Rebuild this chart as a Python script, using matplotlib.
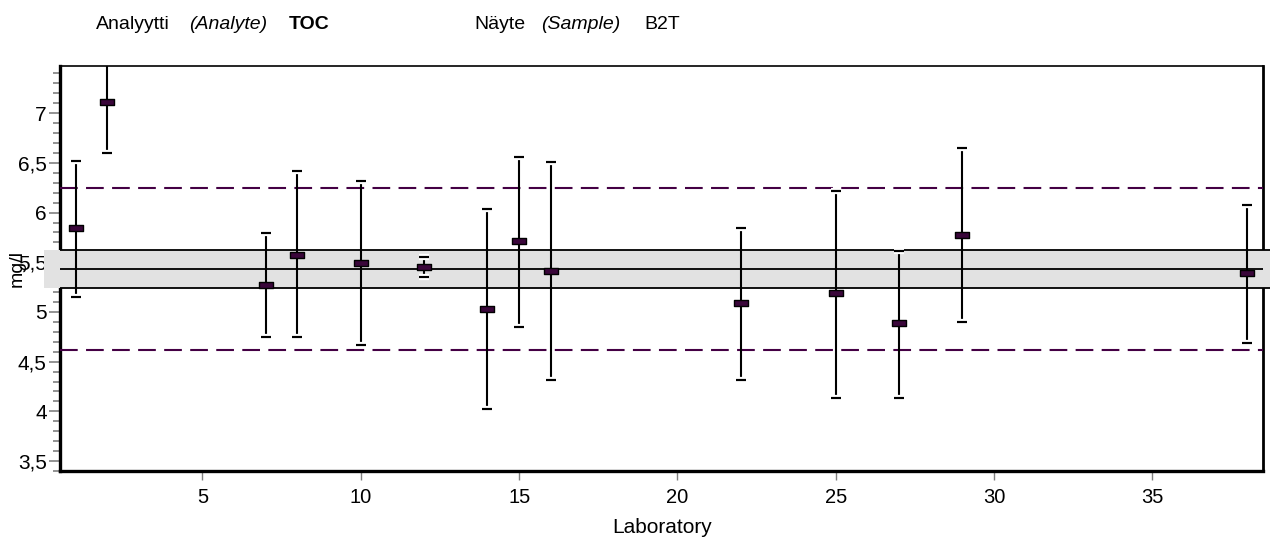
import matplotlib
matplotlib.use("Agg")
import matplotlib.pyplot as plt
import numpy as np
from matplotlib.path import Path
from matplotlib.patches import Rectangle
from matplotlib.ticker import MultipleLocator, FuncFormatter
import matplotlib.patheffects as pe
import matplotlib.transforms as mtransforms

plt.rcParams['font.family'] = ['Liberation Sans', 'DejaVu Sans']

# ---- data ----
labs = [1, 2, 7, 8, 10, 12, 14, 15, 16, 22, 25, 27, 29, 38]
values = [5.84, 7.11, 5.27, 5.575, 5.49, 5.45, 5.025, 5.715, 5.41, 5.086, 5.187, 4.885, 5.776, 5.392]
upper = [6.515, 7.62, 5.79, 6.42, 6.315, 5.55, 6.035, 6.56, 6.51, 5.85, 6.22, 5.615, 6.645, 6.08]
lower = [5.147, 6.603, 4.745, 4.745, 4.667, 5.353, 4.022, 4.848, 4.32, 4.32, 4.138, 4.138, 4.90, 4.685]
assigned_value = 5.43
band_low, band_high = 5.24, 5.62
limit_low, limit_high = 4.615, 6.245
x_ticks = [5, 10, 15, 20, 25, 30, 35]

W, H = 1270, 541
fig = plt.figure(figsize=(W / 100, H / 100), dpi=100)
ax = fig.add_axes([60 / W, 1 - 471 / H, (1263.3 - 60) / W, (471 - 66) / H])

ax.set_xlim(0.5, 38.5)
ax.set_ylim(3.4, 7.475)

purple = '#440044'

# gray band (extends a bit past the axes)
trans = mtransforms.blended_transform_factory(ax.transAxes, ax.transData)
x0 = (44 - 60) / (1263.3 - 60)
x1 = (1270 - 60) / (1263.3 - 60)
ax.add_patch(Rectangle((x0, band_low), x1 - x0, band_high - band_low, transform=trans,
                       facecolor='#e2e2e2', edgecolor='none', zorder=2.6, clip_on=False))
for yv in (band_low, band_high):
    ax.plot([0, x1], [yv, yv], transform=trans, color='black', lw=1.3, zorder=2.7,
            clip_on=False, solid_capstyle='butt')
ax.axhline(assigned_value, color='black', lw=1.3, zorder=2.7)

for yv in (limit_low, limit_high):
    ax.axhline(yv, color=purple, lw=1.5, dashes=(8.5, 4), zorder=2.7)

vals = np.array(values)
yerr = [vals - np.array(lower), np.array(upper) - vals]
eb = ax.errorbar(labs, vals, yerr=yerr, fmt='none', ecolor='black', elinewidth=1.5,
                 capsize=3.6, capthick=1.5, zorder=3)
for cl in eb[1]:
    cl.set_color('#2a002a')
    cl.set_path_effects([pe.withStroke(linewidth=4.5, foreground='white'), pe.Normal()])
    cl.set_zorder(3.5)

rect = Path([(-1, -0.38), (1, -0.38), (1, 0.38), (-1, 0.38), (-1, -0.38)],
            [Path.MOVETO, Path.LINETO, Path.LINETO, Path.LINETO, Path.CLOSEPOLY])
ax.plot(labs, vals, linestyle='none', marker=rect, markersize=10,
        markerfacecolor='#3a063a', markeredgecolor='black', markeredgewidth=1.0, zorder=5)

# spines
ax.spines['left'].set_linewidth(2.4)
ax.spines['bottom'].set_linewidth(2.4)
ax.spines['right'].set_linewidth(2.0)
ax.spines['top'].set_linewidth(1.2)

# ticks
ax.yaxis.set_major_locator(MultipleLocator(0.5))
ax.yaxis.set_minor_locator(MultipleLocator(0.1))
ax.yaxis.set_major_formatter(FuncFormatter(lambda v, p: f"{v:g}".replace('.', ',')))
ax.set_xticks(x_ticks)
ax.tick_params(axis='y', which='major', direction='out', length=8, width=1.2,
               color='#808080', labelsize=15, pad=1.5)
ax.tick_params(axis='y', which='minor', direction='out', length=5, width=1.2,
               color='#808080')
ax.tick_params(axis='x', which='major', direction='out', length=6.5, width=1.0,
               color='#808080', labelsize=14.5, pad=6)
ax.set_xlabel('Laboratory', fontsize=15, labelpad=8)

fig.text(16.7 / W, 1 - 268.5 / H, 'mg/l', rotation=90, ha='center', va='center', fontsize=14)

# header
by = 1 - 29 / H
fig.text(96 / W, by, 'Analyytti', fontsize=14, va='baseline')
fig.text(189 / W, by, '(Analyte)', fontsize=14, style='italic', va='baseline')
fig.text(289 / W, by, 'TOC', fontsize=14, weight='bold', va='baseline')
fig.text(474 / W, by, 'Näyte', fontsize=14, va='baseline')
fig.text(541 / W, by, '(Sample)', fontsize=14, style='italic', va='baseline')
fig.text(644 / W, by, 'B2T', fontsize=14, va='baseline')

fig.savefig('out.png', dpi=100)
